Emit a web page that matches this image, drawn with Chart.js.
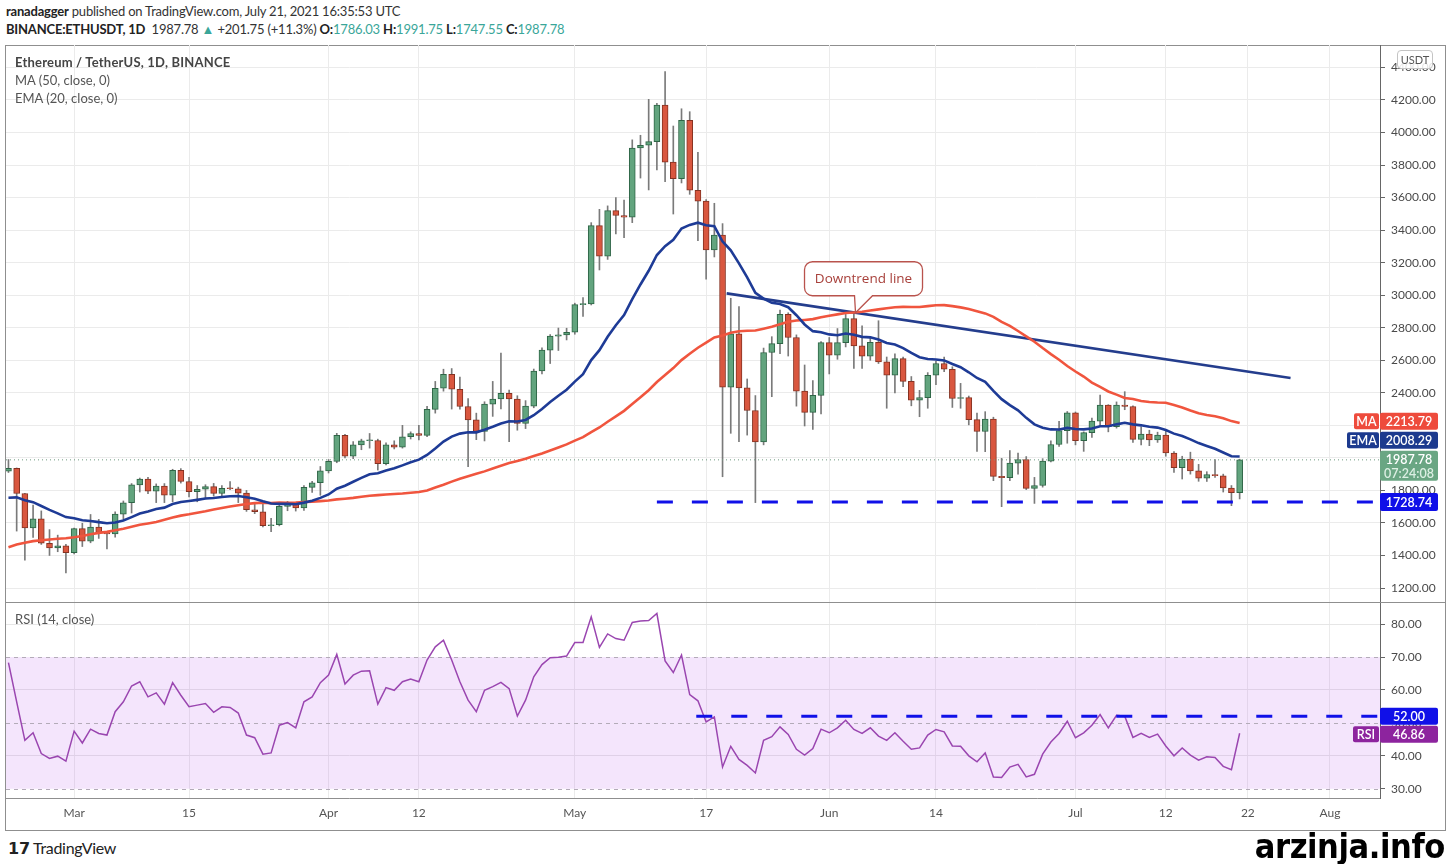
<!DOCTYPE html>
<html>
<head>
<meta charset="utf-8">
<script src="https://cdn.jsdelivr.net/npm/chart.js@4.4.0/dist/chart.umd.min.js"></script>
<style>
  body { margin: 0; width: 1450px; height: 864px; background: #fff; position: relative; overflow: hidden;
         font-family: Lato, "Open Sans", sans-serif; color: #333; }
  .abs { position: absolute; white-space: nowrap; }
  #pub { left: 6px; top: 3px; font-size: 13px; letter-spacing: -0.2px; color: #333; }
  #sym { left: 6px; top: 21px; font-size: 13px; letter-spacing: -0.2px; color: #333; }
  #sym b, #pub b { font-weight: 700; color: #222; }
  .up { color: #3aa699; }
  #frame { left: 5px; top: 45px; width: 1439px; height: 784px; border: 1px solid #8f8f8f; }
  #sep { left: 5px; top: 602px; width: 1441px; height: 1px; background: #8f8f8f; }
  #legend { left: 15px; top: 53px; font-size: 13px; line-height: 18px; color: #555; }
  #legend .t { color: #444; font-weight: 700; letter-spacing: 0.2px; }
  #rsiLbl { left: 15px; top: 611px; font-size: 13px; color: #555; }
  #usdt { left: 1397px; top: 50px; width: 34px; height: 17px; border: 1px solid #c4c4c4; border-radius: 4px;
          background: rgba(255,255,255,0.85); font-size: 11px; color: #555; text-align: center; line-height: 17px; }
  #tv { left: 8px; top: 838px; font-size: 16px; color: #222; font-weight: 700; letter-spacing: -0.3px; }
  #tv span { font-weight: 400; }
  #brand { right: 5px; top: 829px; font-family: "Liberation Sans Narrow", "DejaVu Sans Condensed", sans-serif;
           font-weight: 700; font-size: 34px; line-height: 34px; color: #000; letter-spacing: -0.4px; }
  canvas { position: absolute; }
</style>
</head>
<body>
<div id="pub" class="abs"><b>ranadagger</b> published on TradingView.com, July 21, 2021 16:35:53 UTC</div>
<div id="sym" class="abs"><b>BINANCE:ETHUSDT, 1D</b>&nbsp; 1987.78 <span class="up">▲</span> +201.75 (+11.3%) <b>O:</b><span class="up">1786.03</span> <b>H:</b><span class="up">1991.75</span> <b>L:</b><span class="up">1747.55</span> <b>C:</b><span class="up">1987.78</span></div>
<div id="frame" class="abs"></div>
<div id="sep" class="abs"></div>
<canvas id="priceChart" width="1444" height="557" style="left:6px;top:45px"></canvas>
<canvas id="rsiChart" width="1444" height="227" style="left:6px;top:603px"></canvas>
<div id="legend" class="abs"><div class="t">Ethereum / TetherUS, 1D, BINANCE</div><div>MA (50, close, 0)</div><div>EMA (20, close, 0)</div></div>
<div id="rsiLbl" class="abs">RSI (14, close)</div>
<div id="usdt" class="abs">USDT</div>
<div id="tv" class="abs">𝟭𝟳 <span>TradingView</span></div>
<div id="brand" class="abs">arzinja.info</div>

<script>
// daily candles, first one is Feb 21, 2021 (index 0), last one Jul 21, 2021
const startDate = '2021-02-21';

const opens = [
  1919, 1935, 1781, 1570, 1626, 1475, 1446, 1460,
  1417, 1565, 1488, 1575, 1541, 1533, 1654, 1724, 1834, 1869, 1796, 1826, 1771, 1924, 1855, 1792, 1807, 1823, 1782, 1813,
  1810, 1783, 1681, 1669, 1583, 1589, 1702, 1715, 1692, 1819, 1847,
  1920, 1978, 2138, 2010, 2080, 2105, 2107, 1964, 2080, 2066, 2130, 2150, 2138, 2298, 2428, 2514, 2422, 2316, 2234, 2162,
  2330, 2362, 2397, 2362, 2212, 2318, 2534, 2662, 2748, 2756,
  2772, 2942, 2946, 3428, 3240, 3520, 3490, 3480, 3905, 3922, 3944, 4168, 3818, 3716, 4075, 3645, 3578, 3278, 3370, 2435,
  2762, 2430, 2291, 2098, 2648, 2702, 2882, 2740, 2410, 2280, 2384,
  2708, 2632, 2708, 2856, 2688, 2625, 2710, 2590, 2508, 2610, 2470, 2355, 2370, 2508, 2580, 2545, 2365, 2370, 2235, 2162,
  2238, 1886, 1879, 1968, 1990, 1812, 1830, 1980, 2082, 2167,
  2277, 2106, 2155, 2226, 2324, 2192, 2325, 2316, 2114, 2146, 2110, 2140, 2030, 1940, 1993, 1920, 1875, 1898, 1890, 1815,
  1786.03
];
const highs = [
  1990, 1938, 1782, 1710, 1674, 1559, 1525, 1468,
  1568, 1598, 1652, 1622, 1548, 1668, 1735, 1842, 1876, 1880, 1840, 1842, 1930, 1934, 1880, 1830, 1835, 1843, 1830, 1855,
  1820, 1800, 1725, 1735, 1628, 1710, 1733, 1718, 1830, 1856, 1947,
  1990, 2151, 2145, 2100, 2115, 2150, 2115, 2093, 2105, 2200, 2160, 2200, 2317, 2470, 2545, 2549, 2497, 2365, 2275, 2345,
  2470, 2644, 2416, 2382, 2352, 2546, 2676, 2758, 2798, 2797,
  2951, 2986, 3446, 3528, 3549, 3600, 3585, 3955, 3983, 4204, 4180, 4374, 4040, 4146, 4128, 3878, 3588, 3565, 3440, 2981,
  2930, 2485, 2383, 2675, 2745, 2909, 2892, 2756, 2571, 2475, 2715,
  2740, 2795, 2882, 2897, 2811, 2745, 2843, 2620, 2640, 2620, 2500, 2415, 2524, 2595, 2620, 2560, 2458, 2380, 2275, 2284,
  2250, 1997, 2045, 2030, 2008, 1880, 1995, 2105, 2225, 2285,
  2282, 2160, 2245, 2386, 2327, 2344, 2407, 2320, 2190, 2170, 2158, 2172, 2038, 2010, 2035, 1960, 1915, 1990, 1900, 1830,
  1991.75
];
const lows = [
  1910, 1550, 1371, 1511, 1468, 1400, 1423, 1293,
  1410, 1455, 1478, 1505, 1440, 1512, 1622, 1661, 1790, 1780, 1725, 1725, 1730, 1845, 1760, 1730, 1748, 1765, 1765, 1805,
  1725, 1671, 1657, 1575, 1547, 1582, 1675, 1673, 1677, 1788, 1770,
  1907, 1970, 2000, 1995, 2050, 2060, 1925, 1956, 2055, 2060, 2116, 2110, 2130, 2275, 2410, 2300, 2300, 1946, 2112, 2104,
  2255, 2301, 2100, 2170, 2180, 2308, 2516, 2580, 2660, 2725,
  2760, 2870, 2940, 3155, 3220, 3377, 3353, 3446, 3720, 3647, 3770, 3698, 3499, 3690, 3620, 3335, 3098, 3235, 1884, 2151,
  2100, 2140, 1725, 2080, 2376, 2640, 2626, 2318, 2196, 2175, 2270,
  2516, 2606, 2682, 2550, 2550, 2600, 2580, 2305, 2400, 2438, 2320, 2253, 2305, 2450, 2530, 2310, 2305, 2203, 2040, 2038,
  1860, 1700, 1860, 1900, 1805, 1720, 1820, 1975, 2070, 2090,
  2080, 2040, 2125, 2200, 2160, 2183, 2296, 2095, 2080, 2075, 2095, 2010, 1910, 1870, 1900, 1856, 1855, 1880, 1790, 1706,
  1747.55
];
const closes = [
  1935, 1781, 1570, 1626, 1475, 1446, 1460, 1417,
  1565, 1488, 1575, 1541, 1533, 1654, 1724, 1834, 1869, 1796, 1826, 1771, 1924, 1855, 1792, 1807, 1823, 1782, 1813, 1810,
  1783, 1681, 1669, 1583, 1589, 1702, 1715, 1692, 1819, 1847, 1920,
  1978, 2138, 2010, 2080, 2105, 2107, 1964, 2080, 2066, 2130, 2150, 2138, 2298, 2428, 2514, 2422, 2316, 2234, 2162, 2330,
  2362, 2397, 2362, 2212, 2318, 2534, 2662, 2748, 2756, 2772,
  2942, 2946, 3428, 3240, 3520, 3490, 3480, 3905, 3922, 3944, 4168, 3818, 3716, 4075, 3645, 3578, 3278, 3370, 2435, 2762,
  2430, 2291, 2098, 2648, 2702, 2882, 2740, 2410, 2280, 2384, 2708,
  2632, 2708, 2856, 2688, 2625, 2710, 2590, 2508, 2610, 2470, 2355, 2370, 2508, 2580, 2545, 2365, 2370, 2235, 2162, 2238,
  1886, 1879, 1968, 1990, 1812, 1830, 1980, 2082, 2167, 2277,
  2106, 2155, 2226, 2324, 2192, 2325, 2316, 2114, 2146, 2110, 2140, 2030, 1940, 1993, 1920, 1875, 1898, 1890, 1815, 1786.03,
  1987.78
];

// indicator values, one per candle
const ma50 = [
  1451, 1467, 1478, 1488, 1494, 1498, 1503, 1506, 1512, 1520,
  1530, 1539, 1545, 1555, 1564, 1576, 1589, 1597, 1606, 1619,
  1633, 1645, 1653, 1663, 1672, 1683, 1692, 1701, 1709, 1716,
  1722, 1724, 1722, 1725, 1724, 1725, 1729, 1731, 1734, 1738,
  1745, 1749, 1754, 1761, 1767, 1771, 1775, 1778, 1781, 1786,
  1790, 1800, 1818, 1835, 1854, 1872, 1887, 1902, 1917, 1935,
  1951, 1968, 1981, 1995, 2011, 2027, 2045, 2064, 2083, 2106,
  2127, 2158, 2187, 2222, 2255, 2289, 2331, 2373, 2416, 2466,
  2509, 2552, 2601, 2640, 2677, 2709, 2740, 2752, 2769, 2778,
  2781, 2783, 2794, 2806, 2821, 2837, 2844, 2848, 2853, 2864,
  2874, 2882, 2891, 2894, 2898, 2906, 2913, 2920, 2926, 2928,
  2927, 2927, 2933, 2938, 2939, 2933, 2925, 2915, 2902, 2888,
  2867, 2836, 2811, 2780, 2747, 2714, 2675, 2638, 2603, 2565,
  2531, 2500, 2463, 2436, 2408, 2389, 2368, 2362, 2350, 2343,
  2340, 2339, 2325, 2310, 2291, 2274, 2264, 2256, 2244, 2226,
  2213.79
];
const ema20 = [
  1755, 1757, 1739, 1728, 1704, 1680, 1659, 1636, 1629, 1616,
  1612, 1605, 1598, 1603, 1615, 1636, 1658, 1671, 1686, 1694,
  1716, 1729, 1735, 1742, 1750, 1753, 1759, 1764, 1766, 1758,
  1749, 1733, 1719, 1717, 1717, 1715, 1725, 1737, 1754, 1775,
  1810, 1829, 1853, 1877, 1899, 1905, 1922, 1936, 1954, 1973,
  1989, 2018, 2057, 2100, 2131, 2149, 2157, 2157, 2173, 2191,
  2211, 2225, 2224, 2233, 2262, 2300, 2343, 2382, 2419, 2469,
  2514, 2601, 2662, 2744, 2815, 2878, 2976, 3066, 3150, 3247,
  3301, 3340, 3410, 3432, 3446, 3430, 3424, 3330, 3276, 3196,
  3110, 3014, 2979, 2953, 2946, 2926, 2877, 2820, 2779, 2772,
  2759, 2754, 2764, 2757, 2744, 2741, 2727, 2706, 2697, 2675,
  2645, 2619, 2608, 2605, 2599, 2577, 2557, 2526, 2491, 2467,
  2412, 2361, 2324, 2292, 2246, 2206, 2185, 2175, 2174, 2184,
  2177, 2175, 2180, 2194, 2194, 2206, 2216, 2206, 2200, 2191,
  2186, 2171, 2149, 2134, 2114, 2091, 2073, 2056, 2033, 2010,
  2008.29
];
const rsi14 = [
  68.3, 56.4, 44.7, 47.0, 40.7, 39.2, 39.9, 38.4, 47.5, 43.9,
  48.1, 46.8, 46.3, 53.4, 56.4, 61.2, 62.5, 57.9, 59.1, 55.7,
  62.2, 58.4, 54.9, 55.4, 55.9, 53.2, 54.9, 54.7, 53.0, 46.3,
  45.5, 40.5, 40.9, 49.3, 50.1, 48.5, 56.4, 57.9, 62.2, 64.5,
  70.8, 61.8, 64.5, 65.7, 65.8, 55.7, 60.7, 59.9, 62.5, 63.3,
  62.5, 69.1, 73.1, 75.1, 69.1, 62.5, 56.9, 53.4, 59.9, 61.0,
  62.3, 60.4, 52.1, 56.9, 64.0, 67.7, 69.8, 69.9, 70.3, 74.4,
  74.4, 82.2, 72.9, 77.0, 75.6, 75.1, 80.5, 80.9, 81.1, 83.2,
  68.8, 65.3, 70.6, 58.6, 56.7, 50.3, 51.8, 36.6, 42.9, 38.9,
  37.1, 34.8, 44.7, 45.8, 48.8, 46.5, 42.0, 40.2, 42.2, 48.1,
  47.0, 48.5, 50.8, 48.0, 46.8, 48.5, 46.0, 44.7, 47.0, 44.4,
  42.0, 42.4, 46.3, 48.0, 47.3, 43.0, 42.9, 40.0, 38.2, 40.9,
  33.6, 33.4, 36.6, 37.4, 33.6, 34.4, 40.5, 44.2, 46.8, 50.5,
  45.5, 47.0, 49.3, 52.5, 48.5, 52.3, 52.0, 45.6, 46.8, 45.6,
  46.6, 43.0, 40.0, 42.4, 40.2, 38.7, 39.7, 39.5, 36.8, 35.8,
  46.86
];

// axes
const timeTicks = [8, 22, 39, 50, 69, 85, 100, 113, 130, 141, 151, 161];
const timeLabels = ['Mar', '15', 'Apr', '12', 'May', '17', 'Jun', '14', 'Jul', '12', '22', 'Aug'];
const priceTicks = [1200, 1400, 1600, 1800, 2000, 2200, 2400, 2600, 2800, 3000, 3200, 3400, 3600, 3800, 4000, 4200, 4400];
const rsiTicks = [30, 40, 50, 60, 70, 80];

// drawn levels
const trendDays = [87.5, 156.2];
const trendPrices = [3011, 2491];
const supportDays = [79, 167.1];
const supportPrice = 1728.74;
const rsiLevelDays = [83.8, 167.1];
const rsiLevel = 52;
const lastPrice = 1987.78;
const countdown = '07:24:08';

const xMin = -0.3, xMax = 167.1;
const upFill = '#62a47e', upLine = '#2e6546', downFill = '#d9573f', downLine = '#853222';
const blueLevel = '#1010e8';

Chart.defaults.font.family = 'Lato, "Open Sans", sans-serif';
Chart.defaults.font.size = 12;
Chart.defaults.color = '#4a4a4a';

function xAxis(showLabels) {
  return {
    type: 'linear', min: xMin, max: xMax, offset: false,
    afterBuildTicks: s => { s.ticks = timeTicks.map(v => ({ value: v })); },
    afterFit: s => { s.height = showLabels ? 32 : 0; s.paddingLeft = 0; s.paddingRight = 0; },
    ticks: {
      display: showLabels, autoSkip: false, maxRotation: 0, padding: 8, color: '#555',
      callback: v => timeLabels[timeTicks.indexOf(v)]
    },
    grid: { color: '#ebebeb', drawTicks: false, offset: false },
    border: { display: showLabels, color: '#8f8f8f' }
  };
}

function yAxis(min, max, tickList, gridColor) {
  return {
    position: 'right', min: min, max: max, beginAtZero: false,
    afterBuildTicks: s => { s.ticks = tickList.map(v => ({ value: v })); },
    afterFit: s => { s.width = 70; s.paddingTop = 0; s.paddingBottom = 0; },
    ticks: { padding: 6, color: '#4a4a4a', callback: v => v.toFixed(2) },
    grid: { color: gridColor, tickLength: 5, tickColor: '#666' },
    border: { display: true, color: '#666' }
  };
}

function badge(ctx, x, y, w, h, bg, text, color) {
  ctx.fillStyle = bg;
  ctx.beginPath();
  ctx.roundRect(x, y, w, h, 2);
  ctx.fill();
  ctx.fillStyle = color || '#fff';
  ctx.font = '600 12.5px Lato, sans-serif';
  ctx.textAlign = 'center';
  ctx.textBaseline = 'middle';
  ctx.fillText(text, x + w / 2, y + h / 2 + 0.5);
}

const priceBadges = {
  id: 'priceBadges',
  afterDraw(chart) {
    const ctx = chart.ctx, y = chart.scales.y, right = chart.chartArea.right;
    ctx.save();
    const yP = y.getPixelForValue(lastPrice);
    const pTop = yP - 9;
    ctx.fillStyle = '#6aa683';
    ctx.beginPath(); ctx.roundRect(right, pTop, 58, 30, 2); ctx.fill();
    ctx.font = '600 12.5px Lato, sans-serif'; ctx.textAlign = 'center'; ctx.textBaseline = 'middle';
    ctx.fillStyle = '#fff'; ctx.fillText(lastPrice.toFixed(2), right + 29, yP + 0.5);
    ctx.fillStyle = '#dcefe3'; ctx.fillText(countdown, right + 29, yP + 14.5);

    const yE = Math.min(y.getPixelForValue(ema20[ema20.length - 1]), pTop - 2 - 8.5);
    badge(ctx, right, yE - 8.5, 58, 17, '#1c3a8e', ema20[ema20.length - 1].toFixed(2));
    badge(ctx, right - 33, yE - 8, 32, 16, '#1c3a8e', 'EMA');

    const yM = Math.min(y.getPixelForValue(ma50[ma50.length - 1]), yE - 8.5 - 2 - 8.5);
    badge(ctx, right, yM - 8.5, 58, 17, '#ee4b3c', ma50[ma50.length - 1].toFixed(2));
    badge(ctx, right - 26, yM - 8, 25, 16, '#ee4b3c', 'MA');

    const yS = y.getPixelForValue(supportPrice);
    badge(ctx, right, yS - 9, 58, 18, blueLevel, supportPrice.toFixed(2));
    ctx.restore();
  }
};

const callout = {
  id: 'callout',
  afterDatasetsDraw(chart) {
    const ctx = chart.ctx, xs = chart.scales.x, ys = chart.scales.y;
    const d = 103.2;
    const f = (d - trendDays[0]) / (trendDays[1] - trendDays[0]);
    const tx = xs.getPixelForValue(d);
    const ty = ys.getPixelForValue(trendPrices[0] + f * (trendPrices[1] - trendPrices[0]));
    const bx = tx - 51, by = ty - 51, bw = 118, bh = 34, r = 8;
    ctx.save();
    ctx.beginPath();
    ctx.moveTo(bx + r, by);
    ctx.lineTo(bx + bw - r, by); ctx.arcTo(bx + bw, by, bx + bw, by + r, r);
    ctx.lineTo(bx + bw, by + bh - r); ctx.arcTo(bx + bw, by + bh, bx + bw - r, by + bh, r);
    ctx.lineTo(tx + 17, by + bh); ctx.lineTo(tx, ty); ctx.lineTo(tx - 1, by + bh);
    ctx.lineTo(bx + r, by + bh); ctx.arcTo(bx, by + bh, bx, by + bh - r, r);
    ctx.lineTo(bx, by + r); ctx.arcTo(bx, by, bx + r, by, r);
    ctx.closePath();
    ctx.fillStyle = '#fff'; ctx.fill();
    ctx.strokeStyle = '#b9534d'; ctx.lineWidth = 1.3; ctx.stroke();
    ctx.fillStyle = '#a8403b'; ctx.font = '13.5px "Open Sans", sans-serif';
    ctx.textAlign = 'center'; ctx.textBaseline = 'middle';
    ctx.fillText('Downtrend line', bx + bw / 2, by + bh / 2);
    ctx.restore();
  }
};

const idx = closes.map((c, i) => i);
const isUp = idx.map(i => closes[i] >= opens[i]);

new Chart(document.getElementById('priceChart'), {
  type: 'bar',
  data: {
    datasets: [
      { type: 'line', label: 'EMA', order: 0, data: idx.map(i => ({ x: i, y: ema20[i] })),
        borderColor: '#1e3b96', borderWidth: 2.6, pointRadius: 0 },
      { type: 'line', label: 'MA', order: 1, data: idx.map(i => ({ x: i, y: ma50[i] })),
        borderColor: '#f0553e', borderWidth: 2.6, pointRadius: 0 },
      { type: 'line', label: 'trend', order: 2, data: trendDays.map((d, k) => ({ x: d, y: trendPrices[k] })),
        borderColor: '#243d8d', borderWidth: 2.6, pointRadius: 0 },
      { type: 'line', label: 'support', order: 2, data: supportDays.map(d => ({ x: d, y: supportPrice })),
        borderColor: blueLevel, borderWidth: 3, borderDash: [16, 19], borderCapStyle: 'butt', pointRadius: 0 },
      { type: 'line', label: 'last', order: 3, data: [{ x: xMin, y: lastPrice }, { x: xMax, y: lastPrice }],
        borderColor: '#6f9a80', borderWidth: 1, borderDash: [1, 3], pointRadius: 0 },
      { label: 'body', order: 5, grouped: false, barThickness: 6, minBarLength: 1,
        data: idx.map(i => ({ x: i, y: [Math.min(opens[i], closes[i]), Math.max(opens[i], closes[i])] })),
        backgroundColor: isUp.map(u => u ? upFill : downFill),
        borderColor: isUp.map(u => u ? upLine : downLine), borderWidth: 1, borderSkipped: false },
      { label: 'wick', order: 6, grouped: false, barThickness: 1,
        data: idx.map(i => ({ x: i, y: [lows[i], highs[i]] })),
        backgroundColor: '#7a7a7a', borderWidth: 0 }
    ]
  },
  options: {
    responsive: false, animation: false, devicePixelRatio: 1,
    layout: { padding: 0 },
    plugins: { legend: { display: false }, tooltip: { enabled: false } },
    scales: { x: xAxis(false), y: yAxis(1114, 4538, priceTicks, '#ebebeb') }
  },
  plugins: [callout, priceBadges]
});

const rsiBand = {
  id: 'rsiBand',
  beforeDatasetsDraw(chart) {
    const ctx = chart.ctx, y = chart.scales.y, a = chart.chartArea;
    const y70 = y.getPixelForValue(70), y30 = y.getPixelForValue(30);
    ctx.save();
    ctx.fillStyle = 'rgba(190,100,235,0.17)';
    ctx.fillRect(a.left, y70, a.right - a.left, y30 - y70);
    ctx.strokeStyle = '#b3abb8'; ctx.lineWidth = 1; ctx.setLineDash([4, 4]);
    [70, 50, 30].forEach(v => {
      const py = Math.round(y.getPixelForValue(v)) + 0.5;
      ctx.beginPath(); ctx.moveTo(a.left, py); ctx.lineTo(a.right, py); ctx.stroke();
    });
    ctx.restore();
  },
  afterDraw(chart) {
    const ctx = chart.ctx, y = chart.scales.y, right = chart.chartArea.right;
    ctx.save();
    const yL = y.getPixelForValue(rsiLevel);
    badge(ctx, right, yL - 8.5, 58, 17, blueLevel, rsiLevel.toFixed(2));
    const yR = Math.max(y.getPixelForValue(rsi14[rsi14.length - 1]), yL + 8.5 + 1 + 8.5);
    badge(ctx, right, yR - 8.5, 58, 17, '#8d249e', rsi14[rsi14.length - 1].toFixed(2));
    badge(ctx, right - 27, yR - 8, 26, 16, '#8d249e', 'RSI');
    ctx.restore();
  }
};

new Chart(document.getElementById('rsiChart'), {
  type: 'line',
  data: {
    datasets: [
      { label: 'level', order: 0, data: rsiLevelDays.map(d => ({ x: d, y: rsiLevel })),
        borderColor: blueLevel, borderWidth: 3, borderDash: [16, 19], borderCapStyle: 'butt', pointRadius: 0 },
      { label: 'RSI', order: 1, data: idx.map(i => ({ x: i, y: rsi14[i] })),
        borderColor: '#9a46b0', borderWidth: 1.5, pointRadius: 0 }
    ]
  },
  options: {
    responsive: false, animation: false, devicePixelRatio: 1,
    layout: { padding: 0 },
    plugins: { legend: { display: false }, tooltip: { enabled: false } },
    scales: {
      x: xAxis(true),
      y: yAxis(27.2, 86.4, rsiTicks, ctx => (ctx.tick && [80, 60, 40].includes(ctx.tick.value)) ? '#e6e6e6' : 'rgba(0,0,0,0)')
    }
  },
  plugins: [rsiBand]
});
</script>
</body>
</html>
